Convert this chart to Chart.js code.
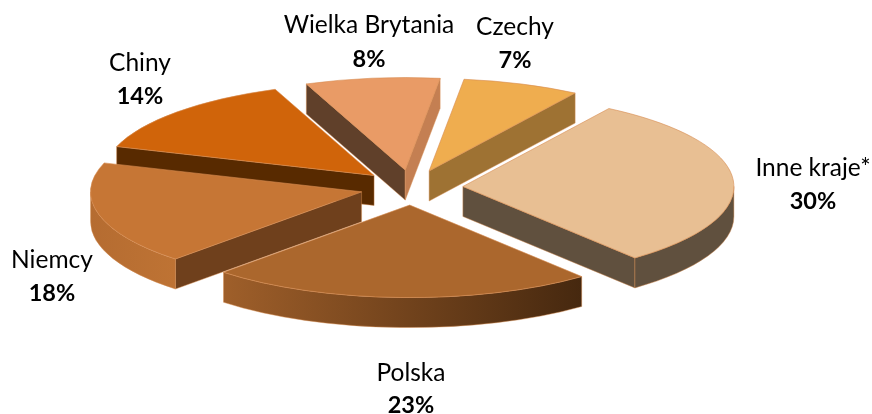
<!DOCTYPE html>
<html lang="pl">
<head>
<meta charset="utf-8">
<title>Udział krajów</title>
<style>
  html, body { margin: 0; padding: 0; background: #fff; }
  #wrap { position: relative; width: 872px; height: 414px; }
</style>
</head>
<body>
<div id="wrap"><canvas id="pieChart" width="872" height="414"></canvas></div>
<script src="https://cdn.jsdelivr.net/npm/chart.js@4"></script>
<script>
// clockwise from the top of the pie
const labels = ["Czechy", "Inne kraje*", "Polska", "Niemcy", "Chiny", "Wielka Brytania"];
const values = [7, 30, 23, 18, 14, 8];

const topColors = ["#EFAD4F", "#E8BF93", "#AB672D", "#C67635", "#D0640A", "#E99B66"];
const startFaceColors = [null, null, null, "#6F401C", "#582A00", "#60402A"];
const endFaceColors = ["#9E7233", "#60503E", null, null, null, "#C47F52"];
const rimColorsLeft = ["#9E7233", "#60503E", "#9F5F2A", "#B56C31", "#582A00", "#60402A"];
const rimColorsRight = ["#9E7233", "#60503E", "#46280F", "#BE7334", "#582A00", "#60402A"];

// back to front
const paintOrder = [5, 0, 4, 1, 3, 2];

// flattened view of the pie
const CENTER_X = 411.5;
const CENTER_Y = 187.5;
const SCALE_X = 2.71;
const SCALE_Y = 0.925;
const DEPTH = 30 / SCALE_Y;
const EDGE = "rgba(214,140,80,0.75)";
// moved here and not with the offset option, arc.draw widens small slices by it
const SLICE_SHIFT = 19;

// label centre x, name baseline, percent baseline
const labelSpots = [
  [515, 35, 68],
  [813, 176, 209],
  [411, 381, 413],
  [52, 268, 301],
  [140, 71, 104],
  [369, 33, 67]
];

function enterView(ctx, arc) {
  const mid = (arc.startAngle + arc.endAngle) / 2;
  ctx.translate(CENTER_X, CENTER_Y);
  ctx.scale(SCALE_X, SCALE_Y);
  ctx.translate(Math.cos(mid) * SLICE_SHIFT, Math.sin(mid) * SLICE_SHIFT);
}

function drawFace(ctx, arc, angle, color) {
  const r = arc.outerRadius;
  ctx.save();
  enterView(ctx, arc);
  ctx.beginPath();
  ctx.moveTo(0, 0);
  ctx.lineTo(Math.cos(angle) * r, Math.sin(angle) * r);
  ctx.lineTo(Math.cos(angle) * r, Math.sin(angle) * r + DEPTH);
  ctx.lineTo(0, DEPTH);
  ctx.closePath();
  ctx.restore();
  ctx.fillStyle = color;
  ctx.fill();
  ctx.strokeStyle = EDGE;
  ctx.lineWidth = 0.6;
  ctx.stroke();
}

function drawRim(ctx, arc, i) {
  const from = Math.max(arc.startAngle, 0);
  const to = Math.min(arc.endAngle, Math.PI);
  if (to <= from) return;
  const r = arc.outerRadius;
  ctx.save();
  enterView(ctx, arc);
  ctx.beginPath();
  ctx.arc(0, 0, r, from, to);
  ctx.arc(0, DEPTH, r, to, from, true);
  ctx.closePath();
  const left = ctx.getTransform().transformPoint({ x: Math.cos(to) * r, y: 0 }).x;
  const right = ctx.getTransform().transformPoint({ x: Math.cos(from) * r, y: 0 }).x;
  ctx.restore();
  const grad = ctx.createLinearGradient(left, 0, right, 0);
  grad.addColorStop(0, rimColorsLeft[i]);
  grad.addColorStop(1, rimColorsRight[i]);
  ctx.fillStyle = grad;
  ctx.fill();
  ctx.strokeStyle = EDGE;
  ctx.lineWidth = 0.6;
  ctx.stroke();
}

function drawTop(ctx, arc) {
  ctx.save();
  enterView(ctx, arc);
  ctx.translate(-arc.x, -arc.y);
  arc.draw(ctx);
  ctx.restore();

  ctx.save();
  enterView(ctx, arc);
  ctx.beginPath();
  ctx.moveTo(0, 0);
  ctx.arc(0, 0, arc.outerRadius, arc.startAngle, arc.endAngle);
  ctx.closePath();
  ctx.restore();
  ctx.strokeStyle = EDGE;
  ctx.lineWidth = 0.8;
  ctx.stroke();
}

const pie3d = {
  id: "pie3d",
  beforeDatasetsDraw(chart) {
    const ctx = chart.ctx;
    const arcs = chart.getDatasetMeta(0).data;
    paintOrder.forEach(i => {
      const arc = arcs[i];
      if (startFaceColors[i]) drawFace(ctx, arc, arc.startAngle, startFaceColors[i]);
      if (endFaceColors[i]) drawFace(ctx, arc, arc.endAngle, endFaceColors[i]);
      drawRim(ctx, arc, i);
      drawTop(ctx, arc);
    });
    return false;
  },
  afterDraw(chart) {
    const ctx = chart.ctx;
    ctx.save();
    ctx.textAlign = "center";
    ctx.textBaseline = "alphabetic";
    ctx.fillStyle = "#000";
    labels.forEach((name, i) => {
      const [x, y1, y2] = labelSpots[i];
      ctx.font = "24.5px Lato";
      ctx.fillText(name, x, y1);
      ctx.font = "bold 23.5px Lato";
      ctx.fillText(values[i] + "%", x, y2);
    });
    ctx.restore();
  }
};

new Chart(document.getElementById("pieChart"), {
  type: "pie",
  data: {
    labels: labels,
    datasets: [{
      data: values,
      backgroundColor: topColors,
      borderWidth: 0
    }]
  },
  options: {
    responsive: false,
    animation: false,
    radius: 100,
    rotation: 7.4,
    layout: { padding: 0 },
    plugins: {
      legend: { display: false },
      tooltip: { enabled: false }
    }
  },
  plugins: [pie3d]
});
</script>
</body>
</html>
